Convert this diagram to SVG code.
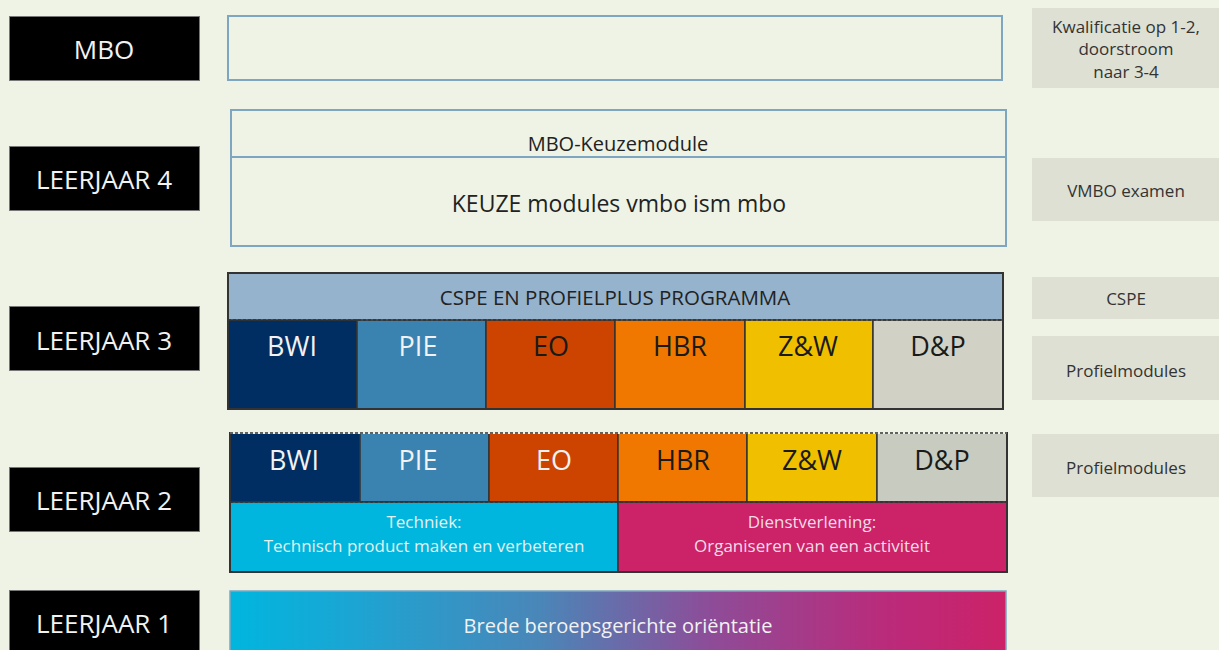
<svg xmlns="http://www.w3.org/2000/svg" width="1219" height="650" viewBox="0 0 1219 650">
<defs>
<linearGradient id="grad1" x1="0" y1="0" x2="1" y2="0">
<stop offset="0" stop-color="#00b6de"/>
<stop offset="0.15" stop-color="#1aa6d4"/>
<stop offset="0.4" stop-color="#4a86b8"/>
<stop offset="0.62" stop-color="#8e4c98"/>
<stop offset="0.85" stop-color="#bb2a7a"/>
<stop offset="1" stop-color="#cc2268"/>
</linearGradient>
</defs>
<style>
text{font-family:"Open Sans","Liberation Sans",sans-serif;text-anchor:middle}
.lbl{fill:#000;stroke:#777;stroke-width:1}
.lbltx{fill:#f2f2f2;font-size:26px}
.blu{fill:none;stroke:#7ea6c0;stroke-width:2}
.side{fill:#dde0d3}
.sidetx{fill:#333;font-size:17px}
.cell{stroke:#333;stroke-width:1.5}
.cellw{fill:#f2f2f2;font-size:27px}
.celld{fill:#1a1a1a;font-size:27px}
.dash{stroke:#333;stroke-width:1.5;stroke-dasharray:3 2;fill:none}
.frame{fill:none;stroke:#333;stroke-width:2}
</style>
<rect width="1219" height="650" fill="#eef3e6"/>

<g id="lbl-mbo"><rect class="lbl" x="9.5" y="16.5" width="190" height="64"/><text class="lbltx" x="104" y="59">MBO</text></g>
<g id="lbl-4"><rect class="lbl" x="9.5" y="146.5" width="190" height="64"/><text class="lbltx" x="104" y="189">LEERJAAR 4</text></g>
<g id="lbl-3"><rect class="lbl" x="9.5" y="306.5" width="190" height="64"/><text class="lbltx" x="104" y="350">LEERJAAR 3</text></g>
<g id="lbl-2"><rect class="lbl" x="9.5" y="467.5" width="190" height="64"/><text class="lbltx" x="104" y="510">LEERJAAR 2</text></g>
<g id="lbl-1"><rect class="lbl" x="9.5" y="590.5" width="190" height="70"/><text class="lbltx" x="104" y="633">LEERJAAR 1</text></g>

<g id="mbo-box"><rect class="blu" x="228" y="16" width="774" height="64"/></g>

<g id="leerjaar4">
<rect class="blu" x="231" y="110" width="775" height="136"/>
<line class="blu" x1="231" y1="157" x2="1006" y2="157"/>
<text x="618" y="151" fill="#222" font-size="20">MBO-Keuzemodule</text>
<text x="619" y="212" fill="#222" font-size="23">KEUZE modules vmbo ism mbo</text>
</g>

<g id="leerjaar3">
<rect x="228" y="273" width="775" height="47" fill="#95b3cd"/>
<text x="615" y="305" fill="#222" font-size="20.5">CSPE EN PROFIELPLUS PROGRAMMA</text>
<rect class="cell" x="228" y="320" width="129" height="89" fill="#002d62"/>
<rect class="cell" x="357" y="320" width="129" height="89" fill="#3a83b0"/>
<rect class="cell" x="486" y="320" width="129" height="89" fill="#cc4400"/>
<rect class="cell" x="615" y="320" width="130" height="89" fill="#f07800"/>
<rect class="cell" x="745" y="320" width="128" height="89" fill="#f0c000"/>
<rect class="cell" x="873" y="320" width="130" height="89" fill="#d1d2c5"/>
<text class="cellw" x="292" y="356">BWI</text>
<text class="cellw" x="418" y="356">PIE</text>
<text class="celld" x="551" y="356">EO</text>
<text class="celld" x="680" y="356">HBR</text>
<text class="celld" x="808" y="356">Z&amp;W</text>
<text class="celld" x="938" y="356">D&amp;P</text>
<line class="dash" x1="228" y1="320" x2="1003" y2="320"/>
<rect class="frame" x="228" y="273" width="775" height="136"/>
</g>

<g id="leerjaar2">
<rect class="cell" x="230" y="433" width="130" height="69" fill="#002d62"/>
<rect class="cell" x="360" y="433" width="129" height="69" fill="#3a83b0"/>
<rect class="cell" x="489" y="433" width="129" height="69" fill="#cc4400"/>
<rect class="cell" x="618" y="433" width="129" height="69" fill="#f07800"/>
<rect class="cell" x="747" y="433" width="130" height="69" fill="#f0c000"/>
<rect class="cell" x="877" y="433" width="130" height="69" fill="#c8cbc0"/>
<text class="cellw" x="294" y="470">BWI</text>
<text class="cellw" x="418" y="470">PIE</text>
<text class="cellw" x="554" y="470">EO</text>
<text class="celld" x="683" y="470">HBR</text>
<text class="celld" x="812" y="470">Z&amp;W</text>
<text class="celld" x="942" y="470">D&amp;P</text>
<rect class="cell" x="230" y="502" width="388" height="70" fill="#00b6de"/>
<rect class="cell" x="618" y="502" width="389" height="70" fill="#cc2268"/>
<text x="424" y="528" fill="#e3f1ee" font-size="17">Techniek:</text>
<text x="424" y="552" fill="#e3f1ee" font-size="17">Technisch product maken en verbeteren</text>
<text x="812" y="528" fill="#f1dde6" font-size="17">Dienstverlening:</text>
<text x="812" y="552" fill="#f1dde6" font-size="17">Organiseren van een activiteit</text>
<rect class="frame" x="230" y="433" width="777" height="139"/>
<line x1="230" y1="433" x2="1007" y2="433" stroke="#eef3e6" stroke-width="2.2"/>
<line class="dash" x1="230" y1="433" x2="1007" y2="433"/>
<line class="dash" x1="230" y1="502" x2="1007" y2="502"/>
</g>

<g id="leerjaar1">
<rect x="230" y="591" width="776" height="70" fill="url(#grad1)" stroke="#7ea6c0" stroke-width="1.5"/>
<text x="618" y="633" fill="#f2f2f2" font-size="20">Brede beroepsgerichte oriëntatie</text>
</g>

<g id="side-mbo"><rect class="side" x="1032" y="8" width="190" height="80"/>
<text class="sidetx" x="1126" y="33">Kwalificatie op 1-2,</text>
<text class="sidetx" x="1126" y="55">doorstroom</text>
<text class="sidetx" x="1126" y="78">naar 3-4</text></g>
<g id="side-vmbo"><rect class="side" x="1032" y="158" width="190" height="63"/><text class="sidetx" x="1126" y="197">VMBO examen</text></g>
<g id="side-cspe"><rect class="side" x="1032" y="277" width="190" height="42"/><text class="sidetx" x="1126" y="305">CSPE</text></g>
<g id="side-prof3"><rect class="side" x="1032" y="336" width="190" height="64"/><text class="sidetx" x="1126" y="377">Profielmodules</text></g>
<g id="side-prof2"><rect class="side" x="1032" y="434" width="190" height="63"/><text class="sidetx" x="1126" y="474">Profielmodules</text></g>

<g id="connectors"></g>
</svg>
